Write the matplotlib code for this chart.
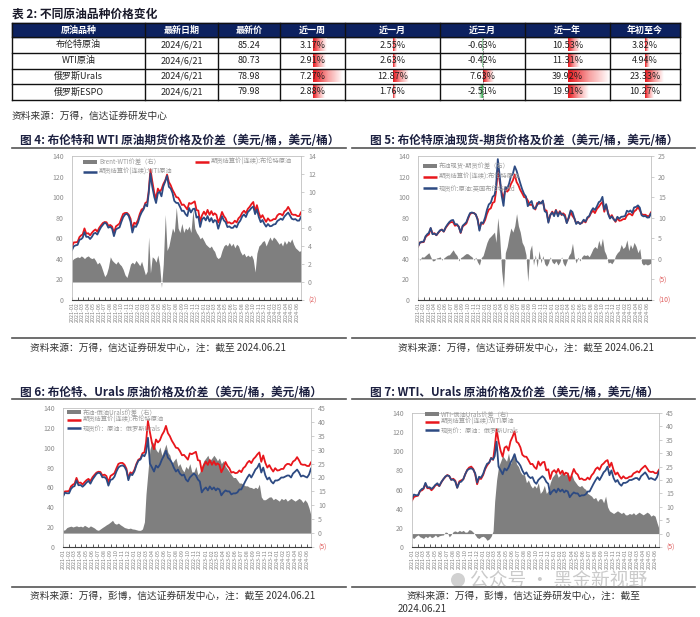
import numpy as np
import pandas as pd
import matplotlib
matplotlib.use('Agg')
import matplotlib.pyplot as plt
import matplotlib.dates as mdates
from matplotlib.patches import Rectangle, Circle
from matplotlib.colors import LinearSegmentedColormap

plt.rcParams['font.family'] = ['Noto Sans CJK SC', 'DejaVu Sans']
plt.rcParams['axes.unicode_minus'] = False

# ---------------- table data ----------------
tbl_header = ['原油品种', '最新日期', '最新价', '近一周', '近一月', '近三月', '近一年', '年初至今']
tbl_names = ['布伦特原油', 'WTI原油', '俄罗斯Urals', '俄罗斯ESPO']
tbl_dates = ['2024/6/21', '2024/6/21', '2024/6/21', '2024/6/21']
tbl_price = [85.24, 80.73, 78.98, 79.98]
chg_1w = [3.17, 2.91, 7.27, 2.88]
chg_1m = [2.55, 2.63, 12.87, 1.76]
chg_3m = [-0.63, -0.42, 7.63, -2.51]
chg_1y = [10.53, 11.31, 39.92, 19.91]
chg_ytd = [3.82, 4.94, 23.33, 10.27]

# ---------------- series (1st, 11th, 21st of each month) ----------------
dates = pd.to_datetime([f'{y}-{m:02d}-{d:02d}' for y in range(2021, 2025)
                        for m in range(1, 13) for d in (1, 11, 21) if (y, m) <= (2024, 6)])

brent_fut = [
    51.8, 56.0, 56.1, 56.4, 61.1, 62.9, 63.7, 69.6, 64.5, 64.9, 62.9, 65.3, 67.3, 68.6, 66.4, 70.3, 72.7, 74.9,
    75.8, 75.6, 72.2, 72.9, 71.4, 65.2, 71.6, 72.9, 74.4, 79.3, 83.7, 84.6, 84.7, 82.9, 78.9, 68.9, 75.2, 73.9,
    77.8, 83.7, 87.9, 89.2, 94.4, 95.4, 105.0, 127.0, 115.6, 104.4, 98.5, 108.3, 105.3, 107.5, 112.6, 116.3, 122.0, 114.7,
    111.6, 107.1, 103.9, 100.0, 99.6, 96.7, 92.4, 92.8, 90.5, 88.0, 94.3, 93.5, 94.7, 95.9, 87.5, 86.9, 76.1, 82.2,
    85.9, 82.7, 87.6, 82.8, 86.4, 82.6, 84.3, 82.8, 75.3, 79.8, 85.6, 81.7, 79.3, 74.9, 75.6, 74.3, 74.8, 77.1,
    75.4, 79.4, 81.1, 84.9, 86.8, 84.5, 88.6, 90.6, 93.3, 95.3, 85.8, 92.2, 84.6, 80.0, 82.5, 78.9, 76.0, 79.4,
    77.0, 77.4, 78.6, 78.7, 82.2, 83.7, 83.6, 82.2, 86.0, 87.5, 90.5, 87.3, 83.4, 82.8, 82.9, 81.6, 81.6, 85.2]

wti_fut = [
    48.5, 52.3, 53.1, 53.6, 58.5, 59.2, 60.6, 66.0, 61.4, 61.5, 59.3, 61.4, 64.5, 65.3, 63.6, 67.7, 70.9, 73.1,
    75.2, 74.1, 70.3, 71.3, 69.3, 62.1, 68.6, 69.7, 70.6, 75.9, 80.5, 83.0, 84.0, 81.6, 76.1, 65.6, 71.7, 71.1,
    75.2, 81.2, 85.1, 88.2, 93.1, 91.1, 103.4, 123.0, 110.3, 100.3, 94.3, 103.8, 105.2, 100.8, 110.3, 115.3, 120.7, 110.0,
    108.4, 104.1, 96.4, 94.4, 94.3, 90.8, 86.6, 86.8, 83.5, 81.6, 89.4, 85.1, 88.4, 88.9, 80.1, 81.2, 71.0, 78.3,
    80.3, 77.4, 81.6, 76.4, 79.7, 75.4, 77.7, 76.7, 69.3, 75.7, 81.5, 77.4, 75.7, 70.9, 71.6, 70.1, 70.2, 72.5,
    70.6, 74.8, 77.1, 81.4, 83.2, 80.7, 85.6, 87.3, 89.6, 90.8, 83.5, 88.1, 80.4, 75.7, 77.8, 74.1, 71.3, 73.9,
    71.7, 72.0, 73.4, 73.8, 76.8, 77.9, 79.1, 77.9, 81.1, 83.2, 85.0, 82.1, 79.0, 78.3, 78.7, 77.1, 77.2, 80.7]

brent_wti_spread = [
    2.4, 2.6, 2.7, 2.8, 2.7, 2.9, 2.8, 2.6, 2.8, 2.9, 2.7, 2.6, 2.7, 2.4, 2.0, 2.2, 1.8, 1.2,
    0.6, 0.9, 1.6, 2.8, 2.4, 2.2, 2.0, 2.3, 2.0, 1.8, 1.4, 0.8, 0.5, 1.2, 2.0, 2.2, 2.0, 2.4,
    2.1, 1.8, 2.3, 1.5, 0.8, 1.2, 5.0, 1.0, 2.8, 2.6, 2.2, 3.0, 1.8, -0.6, 2.0, 7.5, 3.5, 4.0,
    5.0, 6.0, 5.5, 8.3, 6.0, 5.5, 6.5, 5.5, 6.0, 5.8, 6.2, 5.5, 8.0, 6.0, 5.5, 5.2, 4.8, 5.0,
    4.6, 4.2, 4.0, 3.8, 4.0, 3.6, 3.4, 2.8, 2.6, 2.8, 3.5, 4.0, 4.2, 4.0, 4.4, 4.0, 4.3, 3.8,
    4.2, 4.0, 3.4, 3.0, 3.2, 2.8, 3.0, 2.8, 3.0, 2.5, 1.1, 3.2, 4.0, 4.2, 4.5, 4.6, 4.0, 4.5,
    5.0, 4.6, 5.0, 4.8, 4.5, 4.2, 4.4, 4.0, 4.6, 4.2, 4.6, 4.4, 4.8, 4.2, 3.8, 3.6, 3.4, 3.5]

brent_dtd = [
    52.1, 55.7, 56.6, 56.8, 61.9, 64.1, 65.2, 70.1, 64.0, 64.5, 63.1, 65.6, 67.8, 68.3, 66.6, 70.9, 73.6, 75.9,
    77.4, 77.8, 73.6, 73.7, 70.9, 65.5, 72.2, 73.9, 75.7, 80.5, 84.5, 85.1, 84.4, 83.3, 78.1, 67.4, 75.5, 74.7,
    80.3, 87.7, 92.9, 94.7, 100.4, 101.9, 109.0, 137.0, 121.1, 101.4, 91.5, 109.8, 108.3, 113.0, 120.1, 122.8, 130.0, 125.7,
    119.6, 113.6, 107.9, 103.0, 100.6, 91.2, 94.4, 96.2, 89.0, 89.0, 92.3, 95.5, 93.7, 96.7, 86.3, 85.1, 75.1, 82.7,
    85.1, 81.5, 87.1, 81.3, 85.6, 83.1, 83.3, 81.0, 74.7, 80.6, 87.1, 85.5, 79.8, 73.9, 76.0, 73.8, 75.3, 78.1,
    76.2, 80.4, 81.6, 86.4, 89.3, 87.5, 91.1, 95.1, 96.3, 100.3, 87.8, 93.2, 83.6, 79.2, 81.3, 78.4, 76.8, 80.9,
    79.0, 80.9, 81.1, 81.7, 86.8, 85.7, 87.1, 84.7, 90.0, 90.5, 92.0, 89.8, 82.4, 81.3, 81.7, 80.1, 80.3, 84.2]

dtd_fut_spread = [
    0.3, -0.3, 0.5, 0.4, 0.8, 1.2, 1.5, 0.5, -0.5, -0.4, 0.2, 0.3, 0.5, -0.3, 0.2, 0.6, 0.9, 1.0,
    1.6, 2.2, 1.4, 0.8, -0.5, 0.3, 0.6, 1.0, 1.3, 1.2, 0.8, 0.5, -0.3, 0.4, -0.8, -1.5, 0.3, 0.8,
    2.5, 4.0, 5.0, 5.5, 6.0, 6.5, 4.0, 10.0, 5.5, -3.0, -7.0, 1.5, 3.0, 5.5, 7.5, 6.5, 8.0, 11.0,
    8.0, 6.5, 4.0, 3.0, 1.0, -5.5, 2.0, 3.4, -1.5, 1.0, -2.0, 2.0, -1.0, 0.8, -1.2, -1.8, -1.0, 0.5,
    -0.8, -1.2, -0.5, -1.5, -0.8, 0.5, -1.0, -1.8, -0.6, 0.8, 1.5, 3.8, 0.5, -1.0, 0.4, -0.5, 0.5, 1.0,
    0.8, 1.0, 0.5, 1.5, 2.5, 3.0, 2.5, 4.5, 3.0, 5.0, 2.0, 1.0, -1.0, -0.8, -1.2, -0.5, 0.8, 1.5,
    2.0, 3.5, 2.5, 3.0, 4.6, 2.0, 3.5, 2.5, 4.0, 3.0, 1.5, 2.5, -1.0, -1.5, -1.2, -1.5, -1.3, -1.0]

urals = [
    50.8, 54.8, 54.1, 54.1, 58.6, 60.7, 61.3, 67.0, 62.2, 62.4, 60.7, 62.5, 64.9, 66.6, 63.8, 68.1, 70.9, 73.7,
    74.8, 74.1, 70.2, 70.4, 68.4, 61.8, 67.6, 68.3, 70.9, 76.1, 80.1, 81.6, 82.2, 80.9, 77.1, 67.3, 73.4, 72.4,
    76.4, 82.5, 86.9, 88.2, 92.9, 91.4, 95.0, 110.0, 84.0, 80.0, 76.0, 82.0, 80.0, 83.0, 88.0, 92.0, 97.0, 90.0,
    88.0, 85.0, 80.0, 76.0, 78.0, 74.0, 72.0, 73.0, 68.0, 66.0, 70.0, 72.0, 74.0, 72.0, 68.0, 66.0, 55.0, 58.0,
    60.0, 57.0, 61.0, 58.0, 60.0, 57.0, 59.0, 58.0, 52.0, 55.0, 57.0, 56.0, 56.0, 53.0, 54.0, 54.0, 55.0, 58.0,
    58.0, 62.0, 66.0, 70.0, 73.0, 70.0, 74.0, 78.0, 80.0, 84.0, 75.0, 80.0, 72.0, 68.0, 70.0, 66.0, 64.0, 67.0,
    67.0, 68.0, 70.0, 70.0, 71.0, 72.0, 72.0, 70.0, 74.0, 76.0, 78.0, 75.0, 71.0, 72.0, 71.0, 70.0, 73.0, 79.0]

brent_urals_spread = [
    1.0, 1.2, 2.0, 2.3, 2.5, 2.2, 2.4, 2.6, 2.3, 2.5, 2.2, 2.8, 2.4, 2.0, 2.6, 2.2, 1.8, 1.2,
    1.0, 1.5, 2.0, 2.5, 3.0, 3.4, 4.0, 4.6, 3.5, 3.2, 3.6, 3.0, 2.5, 2.0, 1.8, 1.6, 1.8, 1.5,
    1.4, 1.2, 1.0, 1.0, 1.5, 4.0, 14.0, 22.0, 30.0, 33.0, 32.0, 30.0, 29.0, 31.0, 28.0, 30.0, 32.0, 29.0,
    28.0, 25.0, 26.0, 27.0, 24.0, 25.0, 23.0, 22.0, 24.0, 23.0, 25.0, 22.0, 22.0, 24.0, 21.0, 22.0, 24.0, 26.0,
    27.0, 28.0, 26.0, 27.0, 28.0, 27.0, 26.0, 27.0, 25.0, 26.0, 24.0, 23.0, 22.0, 21.0, 20.0, 20.0, 19.0, 18.0,
    18.0, 17.5, 17.0, 17.0, 16.5, 16.4, 16.0, 16.5, 16.0, 17.6, 13.0, 12.0, 12.0, 12.5, 13.0, 13.0, 12.0, 12.5,
    12.0, 11.5, 12.5, 12.0, 12.5, 11.5, 12.0, 12.5, 12.0, 11.5, 12.0, 12.5, 12.0, 11.0, 12.0, 11.0, 9.0, 6.3]

wti_urals_spread = [
    -1.5, -1.8, -1.0, -0.5, -1.2, -1.5, -1.8, -1.0, -1.5, -0.8, -1.5, -1.2, -0.5, -1.3, -0.8, -0.6, -0.5, 0.6,
    0.4, -1.2, -0.4, 0.8, 1.0, 0.6, 1.2, 0.8, 1.2, 0.5, 0.6, 1.5, 1.2, 0.5, -0.5, -1.5, -1.8, -1.2,
    -1.0, -1.5, -2.5, -2.0, -1.0, 1.0, 12.0, 20.0, 25.0, 27.0, 29.0, 28.0, 27.0, 30.0, 26.0, 28.0, 30.0, 26.0,
    25.0, 23.0, 22.0, 22.0, 19.0, 20.0, 18.0, 17.0, 18.0, 17.0, 19.0, 15.0, 16.0, 18.0, 15.0, 16.0, 19.0, 21.0,
    22.0, 23.0, 21.0, 22.0, 23.0, 22.0, 22.0, 23.0, 21.0, 22.0, 20.0, 19.0, 18.0, 17.5, 18.0, 17.0, 16.5, 15.0,
    14.5, 14.0, 13.0, 13.5, 12.0, 13.0, 13.0, 11.5, 14.0, 10.0, 8.5, 8.0, 7.5, 8.0, 8.5, 8.0, 7.5, 8.0,
    7.0, 7.0, 7.5, 7.2, 7.8, 7.0, 7.5, 8.0, 7.5, 7.0, 7.5, 8.0, 7.5, 6.5, 7.0, 6.5, 4.0, 1.8]

left_ticks = [0, 20, 40, 60, 80, 100, 120, 140]
right_ticks_4 = [-2, 0, 2, 4, 6, 8, 10, 12, 14]
right_ticks_5 = [-10, -5, 0, 5, 10, 15, 20, 25]
right_ticks_67 = [-5, 0, 5, 10, 15, 20, 25, 30, 35, 40, 45]

# ---------------- styling ----------------
W, H = 700, 617
RED = '#e8161c'
BLUE = '#2d4a82'
GRAY = '#7f7f7f'
NAVY = '#0c2160'
TXT = '#222222'
LEG = '#9a9a9a'

fig = plt.figure(figsize=(7, 6.17), dpi=100)
fig.patch.set_facecolor('white')


def add_ax(l, t, r, b):
    return fig.add_axes([l / W, 1 - b / H, (r - l) / W, (b - t) / H])


ov = fig.add_axes([0, 0, 1, 1], zorder=20)
ov.set_xlim(0, W)
ov.set_ylim(H, 0)
ov.axis('off')
ov.patch.set_alpha(0)

# ---------------- table ----------------
ov.text(12, 14, '表 2: 不同原油品种价格变化', fontsize=8.5, fontweight='bold', va='center', color='#1a1a2a')
col_edges = [12, 145, 218, 280, 345, 440, 525, 610, 680]
row_edges = [23, 37, 53, 68.5, 84, 100]
ov.add_patch(Rectangle((col_edges[0], row_edges[0]), col_edges[-1] - col_edges[0],
                       row_edges[1] - row_edges[0], color=NAVY, zorder=1))
for j, h in enumerate(tbl_header):
    xc = (col_edges[j] + col_edges[j + 1]) / 2
    ov.text(xc, (row_edges[0] + row_edges[1]) / 2, h, color='white', fontsize=6.5,
            fontweight='bold', ha='center', va='center', zorder=5)

red_cm = LinearSegmentedColormap.from_list('rw', ['#e8161c', '#f7a0a0', '#ffffff'])
green_cm = LinearSegmentedColormap.from_list('gw', ['#2faa4a', '#ffffff'])
grad = np.linspace(0, 1, 64)[None, :]

for i in range(4):
    yc = (row_edges[i + 1] + row_edges[i + 2]) / 2
    for j, s in enumerate([tbl_names[i], tbl_dates[i], f'{tbl_price[i]:.2f}']):
        xc = (col_edges[j] + col_edges[j + 1]) / 2
        ov.text(xc, yc, s, fontsize=6.5, ha='center', va='center', color=TXT, zorder=5)

bar_cols = [chg_1w, chg_1m, chg_3m, chg_1y, chg_ytd]
bar_full = [30, 16, 11, 42, 19]
for k, vals in enumerate(bar_cols):
    c0, c1 = col_edges[3 + k], col_edges[4 + k]
    xc = (c0 + c1) / 2
    scale = bar_full[k] / max(abs(v) for v in vals)
    if min(vals) < 0:
        ov.plot([xc, xc], [row_edges[1], row_edges[-1]], color='#333333', lw=0.6, ls=(0, (1, 1)), zorder=3)
    for i, v in enumerate(vals):
        y0, y1 = row_edges[i + 1] + 1.5, row_edges[i + 2] - 1.5
        L = v * scale
        if v >= 0:
            ov.imshow(grad, cmap=red_cm, extent=(xc, xc + L, y1, y0), aspect='auto',
                      interpolation='bilinear', zorder=2)
        else:
            ov.imshow(grad[:, ::-1], cmap=green_cm, extent=(xc + L, xc, y1, y0), aspect='auto',
                      interpolation='bilinear', zorder=2)
        ov.text(xc, (y0 + y1) / 2, f'{v:.2f}%', fontsize=6.5, ha='center', va='center', color=TXT, zorder=5)

for y in row_edges:
    ov.plot([col_edges[0], col_edges[-1]], [y, y], color='#111111', lw=1.0, zorder=4)
for x in col_edges:
    ov.plot([x, x], [row_edges[0], row_edges[-1]], color='#111111', lw=1.0, zorder=4)

ov.text(12, 116, '资料来源：万得，信达证券研发中心', fontsize=7, va='center', color='#333333')

# ---------------- titles, rules, sources ----------------
TCOL = '#1c2040'
ov.text(20, 140, '图 4: 布伦特和 WTI 原油期货价格及价差（美元/桶，美元/桶）', fontsize=8.4,
        fontweight='bold', va='center', color=TCOL)
ov.text(370, 140, '图 5: 布伦特原油现货-期货价格及价差（美元/桶，美元/桶）', fontsize=8.4,
        fontweight='bold', va='center', color=TCOL)
ov.text(20, 392, '图 6: 布伦特、Urals 原油价格及价差（美元/桶，美元/桶）', fontsize=8.4,
        fontweight='bold', va='center', color=TCOL)
ov.text(370, 392, '图 7: WTI、Urals 原油价格及价差（美元/桶，美元/桶）', fontsize=8.4,
        fontweight='bold', va='center', color=TCOL)
for y in (148, 338, 399, 587):
    ov.plot([12, 346], [y, y], color='#555555', lw=1.2)
    ov.plot([352, 695], [y, y], color='#555555', lw=1.2)

ov.text(30, 348, '资料来源：万得，信达证券研发中心，注：截至 2024.06.21', fontsize=7, va='center', color='#333333')
ov.text(398, 348, '资料来源：万得，信达证券研发中心，注：截至 2024.06.21', fontsize=7, va='center', color='#333333')
ov.text(30, 596, '资料来源：万得，彭博，信达证券研发中心，注：截至 2024.06.21', fontsize=7, va='center', color='#333333')
ov.text(407, 596, '资料来源：万得，彭博，信达证券研发中心，注：截至', fontsize=7, va='center', color='#333333')
ov.text(398, 609, '2024.06.21', fontsize=7, va='center', color='#333333')

# ---------------- charts ----------------
x_lo, x_hi = pd.Timestamp('2021-01-01'), pd.Timestamp('2024-06-21')


def make_chart(box, rlim, rticks):
    ax = add_ax(*box)
    axr = ax.twinx()
    ax.set_zorder(axr.get_zorder() + 1)
    ax.patch.set_visible(False)
    axr.patch.set_visible(True)
    axr.patch.set_facecolor('white')
    ax.set_ylim(0, 140)
    ax.set_yticks(left_ticks)
    axr.set_ylim(*rlim)
    axr.set_yticks(rticks)
    axr.set_yticklabels([f'({-t})' if t < 0 else f'{t}' for t in rticks])
    for lab, t in zip(axr.get_yticklabels(), rticks):
        lab.set_color('#e06060' if t < 0 else '#8c8c8c')
        lab.set_fontsize(5)
    ax.set_xlim(x_lo, x_hi)
    ax.xaxis.set_major_locator(mdates.MonthLocator())
    ax.xaxis.set_major_formatter(mdates.DateFormatter('%Y-%m'))
    ax.tick_params(axis='x', labelrotation=90, labelsize=3.9, labelcolor='#7f7f7f',
                   color='#404040', length=2, direction='in', pad=1.5, width=0.6)
    ax.tick_params(axis='y', labelsize=5, labelcolor='#8c8c8c', length=0, pad=6)
    axr.tick_params(axis='y', length=2, color='#bbbbbb', pad=3, width=0.5)
    for s in axr.spines.values():
        s.set_visible(False)
    for name, s in ax.spines.items():
        s.set_color('#c0c0c0')
        s.set_linewidth(0.6)
    ax.spines['bottom'].set_color('#404040')
    ax.spines['bottom'].set_linewidth(0.8)
    return ax, axr


def legend_rows(x, ys, kinds, labels):
    for y, kind, lab in zip(ys, kinds, labels):
        if kind == 'bar':
            ov.add_patch(Rectangle((x, y - 1.8), 14, 3.6, color=GRAY, lw=0))
        else:
            ov.plot([x, x + 14], [y, y], color=kind, lw=1.8, solid_capstyle='butt')
        ov.text(x + 16, y, lab, fontsize=4.5, color=LEG, va='center')


# Chart 4
ax4, ax4r = make_chart((72, 156, 301, 300), (-2, 14), right_ticks_4)
ax4r.fill_between(dates, 0, brent_wti_spread, color=GRAY, lw=0)
ax4.plot(dates, brent_fut, color=RED, lw=1.3)
ax4.plot(dates, wti_fut, color=BLUE, lw=1.3)
legend_rows(83, [162, 172], ['bar', BLUE], ['Brent-WTI价差（右）', '期货结算价(连续):WTI原油'])
legend_rows(195, [162], [RED], ['期货结算价(连续):布伦特原油'])

# Chart 5
ax5, ax5r = make_chart((418, 156, 651, 300), (-10, 25), right_ticks_5)
ax5r.fill_between(dates, 0, dtd_fut_spread, color=GRAY, lw=0)
ax5.plot(dates, brent_fut, color=RED, lw=1.3)
ax5.plot(dates, brent_dtd, color=BLUE, lw=1.3)
legend_rows(423, [166, 177, 188], ['bar', RED, BLUE],
            ['布油现货-期货价差（右）', '期货结算价(连续):布伦特原油', '现货价:原油:英国布伦特Dtd'])

# Chart 6
ax6, ax6r = make_chart((63, 408, 311, 547), (-5, 45), right_ticks_67)
ax6r.fill_between(dates, 0, brent_urals_spread, color=GRAY, lw=0)
ax6.plot(dates, brent_fut, color=RED, lw=1.3)
ax6.plot(dates, urals, color=BLUE, lw=1.3)
legend_rows(67, [412, 420, 428], ['bar', RED, BLUE],
            ['布油-俄油Urals价差（右）', '期货结算价(连续):布伦特原油', '现货价：原油：俄罗斯Urals'])

# Chart 7
ax7, ax7r = make_chart((412, 413, 659, 547), (-5, 45), right_ticks_67)
ax7r.fill_between(dates, 0, wti_urals_spread, color=GRAY, lw=0)
ax7.plot(dates, wti_fut, color=RED, lw=1.3)
ax7.plot(dates, urals, color=BLUE, lw=1.3)
legend_rows(425, [414, 422, 430], ['bar', RED, BLUE],
            ['WTI-俄油Urals价差（右）', '期货结算价(连续):WTI原油', '现货价：原油：俄罗斯Urals'])

# watermark
ov.add_patch(Circle((458, 580), 7, color='#9a9a9a', alpha=0.45, lw=0))
ov.text(470, 580, '公众号 · 黑金新视野', fontsize=13.5, color='#8a8a8a', alpha=0.45, va='center')

fig.savefig('out.png', dpi=100, facecolor='white')
